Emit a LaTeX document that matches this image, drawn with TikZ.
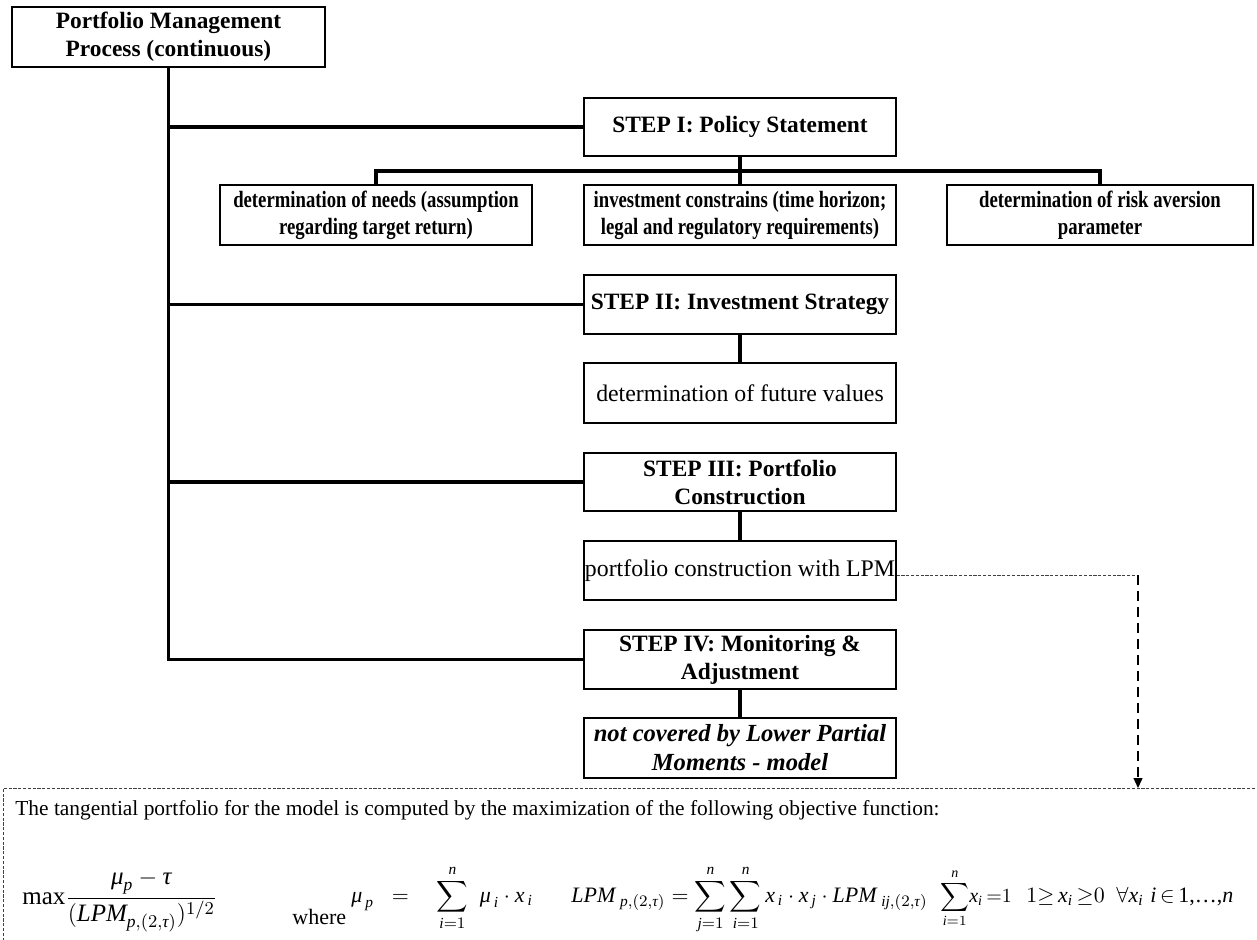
\documentclass[tikz,border=0pt]{standalone}
\usepackage{amsmath}
\usepackage{fontspec}
\setmainfont{Liberation Serif}
\newfontfamily\condfont[FakeStretch=0.8]{Liberation Serif}
\newcommand{\vi}[1]{\text{\itshape #1}}
\newcommand{\vr}[1]{\text{\upshape #1}}
\usetikzlibrary{arrows.meta}
\begin{document}
\begin{tikzpicture}[x=0.5pt,y=-0.5pt,
  box/.style={draw=black, line width=0.6pt, fill=white, inner sep=0pt, align=center,
     minimum width=156pt, minimum height=29.5pt, font=\fontsize{11.7}{14}\selectfont\bfseries},
  plainbox/.style={box, font=\fontsize{11.9}{14}\selectfont},
  subbox/.style={box, font=\fontsize{11.7}{13.5}\selectfont\condfont\bfseries},
  italbox/.style={box, font=\fontsize{12.3}{14.5}\selectfont\bfseries\itshape},
  link/.style={line width=1.9pt},
  thindot/.style={draw=black!75, line width=0.5pt, dash pattern=on 1.6pt off 0.8pt},
  dasharrow/.style={line width=0.7pt, dash pattern=on 5pt off 3pt, -{Triangle[length=5pt,width=4.5pt]}},
  ftext/.style={font=\fontsize{10.7}{12}\selectfont, inner sep=0pt},
  fmath/.style={font=\fontsize{11}{13}\selectfont, inner sep=0pt}
]
\useasboundingbox (0,0) rectangle (1257,940);
\clip (0,0) rectangle (1257,940);

% boxes
\node[box, minimum width=156.5pt, minimum height=30pt] (top) at (168.5,37) {Portfolio Management\\Process (continuous)};
\node[box, minimum height=29pt] (s1) at (740,127) {STEP I: Policy Statement};
\node[subbox, minimum height=30pt] (n1) at (376,215) {determination of needs (assumption\\regarding target return)};
\node[subbox, minimum width=156pt, minimum height=30pt] (n2) at (740,215) {investment constrains (time horizon;\\legal and regulatory requirements)};
\node[subbox, minimum width=153pt, minimum height=30pt] (n3) at (1100,215) {determination of risk aversion\\parameter};
\node[box] (s2) at (740,304.5) {STEP II: Investment Strategy};
\node[plainbox, minimum height=30pt] (fv) at (740,393) {determination of future values};
\node[box, minimum height=29pt] (s3) at (740,482) {STEP III: Portfolio\\Construction};
\node[plainbox] (lpm) at (740,570.5) {portfolio construction with LPM};
\node[box] (s4) at (740,659.5) {STEP IV: Monitoring \&\\Adjustment};
\node[italbox, minimum height=30pt] (nc) at (740,748) {not covered by Lower Partial\\Moments - model};

% trunk and branches
\draw[link] (top.south) -- (top.south |- s4.west) -- (s4.west);
\draw[link] (top.south |- s1.west) -- (s1.west);
\draw[link] (top.south |- s2.west) -- (s2.west);
\draw[link] (top.south |- s3.west) -- (s3.west);

\coordinate (bus) at (740,171);
\draw[link] (s1.south) -- (n2.north);
\draw[link] (n1.north) -- (n1.north |- bus) -- (n3.north |- bus) -- (n3.north);
\draw[link] (s2.south) -- (fv.north);
\draw[link] (s3.south) -- (lpm.north);
\draw[link] (s4.south) -- (nc.north);

% dashed result box
\coordinate (bl) at (3,960);
\coordinate (btop) at (3,788);
\coordinate (br) at (1280,788);
\draw[thindot] (bl) -- (btop) -- (br);

% link from LPM box to result box
\coordinate (corner) at (1138,575);
\draw[thindot] (lpm.east |- corner) -- (corner);
\draw[dasharrow] (corner) -- (corner |- btop);

% result box contents
\node[ftext, anchor=base west] (intro) at (15,815) {The tangential portfolio for the model is computed by the maximization of the following objective function:};
\node[fmath, font=\fontsize{12.5}{14}\selectfont, anchor=base west] (f1) at (22,904) {$\displaystyle \vr{max}\frac{\vi{μ}_{\vi{p}}-\vi{τ}}{(\vi{LPM}_{\vi{p},(2,\vi{τ})})^{1/2}}$};
\node[ftext, font=\fontsize{11}{12}\selectfont, anchor=base west] (wh) at (292,924) {where};
\node[fmath, anchor=base west] (f2) at (351,902) {$\displaystyle \vi{μ}_{\,\vi{p}}\hspace{9pt}{=}\hspace{12pt}\sum_{\vi{i}=1}^{\vi{n}}\hspace{4pt}\vi{μ}_{\,\vi{i}}\cdot \vi{x}_{\,\vi{i}}$};
\node[fmath, anchor=base west] (f3) at (571,902) {$\displaystyle \vi{LPM}_{\;\vi{p},(2,\vi{τ})} = \sum_{\vi{j}=1}^{\vi{n}}\sum_{\vi{i}=1}^{\vi{n}} \vi{x}_{\,\vi{i}}\cdot \vi{x}_{\,\vi{j}}\cdot \vi{LPM}_{\;\vi{ij},(2,\vi{τ})}$};
\node[fmath, font=\fontsize{10}{12}\selectfont, anchor=base west] (f4) at (940,902) {$\displaystyle \sum_{\vi{i}=1}^{\vi{n}}\!\vi{x}_{\vi{i}}\,{=}1$};
\node[fmath, anchor=base west] (f5) at (1026,902) {$1{\ge}\,\vi{x}_{\vi{i}}\,{\ge}0$};
\node[fmath, anchor=base west] (f6) at (1116,902) {$\forall\vi{x}_{\vi{i}}$};
\node[fmath, anchor=base west] (f7) at (1150,902) {$\vi{i}\,{\in}\,$1,…,\vi{n}};
\end{tikzpicture}
\end{document}
